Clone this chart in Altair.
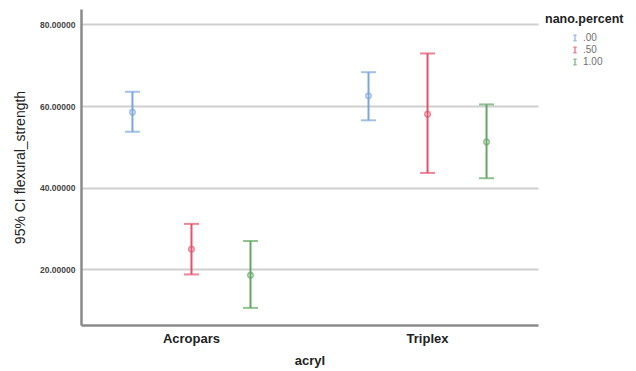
import altair as alt
import pandas as pd

acryl = ["Acropars", "Acropars", "Acropars", "Triplex", "Triplex", "Triplex"]
nano = [".00", ".50", "1.00", ".00", ".50", "1.00"]
mean_vals = [58.5, 24.9, 18.5, 62.5, 58.0, 51.2]
lower_vals = [53.7, 18.7, 10.5, 56.5, 43.6, 42.3]
upper_vals = [63.5, 31.1, 26.9, 68.3, 72.9, 60.4]

y_ticks = [20, 40, 60, 80]
y_tick_labels = ["20.00000", "40.00000", "60.00000", "80.00000"]
nano_order = [".00", ".50", "1.00"]
colors = ["#7aa6de", "#e5506b", "#62a663"]
legend_title = "nano.percent"

df = pd.DataFrame({
    "acryl": acryl, "nano": nano, "mean": mean_vals,
    "lower": lower_vals, "upper": upper_vals,
})

label_map = "{" + ",".join(f"'{v}':'{l}'" for v, l in zip(y_ticks, y_tick_labels)) + "}"

FONT = "Liberation Sans"

x_enc = alt.X("acryl:N", title="acryl",
              scale=alt.Scale(paddingInner=0.2, paddingOuter=0.068),
              axis=alt.Axis(labelAngle=0, labelFontWeight="bold", labelFontSize=13,
                            labelColor="#222", titleFontSize=13, titleFontWeight="bold",
                            titleColor="#222", ticks=False, labelPadding=7,
                            titlePadding=9, domainColor="#8a8a8a", domainWidth=2.5,
                            labelFont=FONT, titleFont=FONT, grid=False))
xo_enc = alt.XOffset("nano:N", sort=nano_order,
                     scale=alt.Scale(paddingInner=0, paddingOuter=0.1))
color_enc = alt.Color("nano:N", sort=nano_order,
                      scale=alt.Scale(domain=nano_order, range=colors),
                      legend=alt.Legend(orient="none", legendX=489, legendY=24,
                                        title=None,
                                        symbolType="M-0.6,-1H0.6M0,-1V1M-0.6,1H0.6",
                                        symbolSize=30, symbolStrokeWidth=1.5,
                                        symbolFillColor="transparent",
                                        labelFont=FONT, labelFontSize=10,
                                        labelColor="#707070", rowPadding=0,
                                        labelOffset=3, padding=0))
y_scale = alt.Scale(domain=[6.3, 83.8], nice=False, zero=False)
y_axis = alt.Axis(values=y_ticks, labelExpr=f"{label_map}[datum.value]",
                  title="95% CI flexural_strength", titleFontSize=14,
                  titleFontWeight="normal", titleColor="#222", titleFont=FONT,
                  labelFont=FONT, labelFontSize=8.5, labelFontWeight="bold",
                  labelColor="#444", ticks=False, labelPadding=6,
                  titlePadding=12, domainColor="#8a8a8a", domainWidth=2.5,
                  gridColor="#cfcfcf", gridWidth=2)

base = alt.Chart(df)

rule = base.mark_rule(strokeWidth=2).encode(
    x=x_enc, xOffset=xo_enc,
    y=alt.Y("lower:Q", scale=y_scale, axis=y_axis), y2="upper:Q",
    color=color_enc)
tick_lo = base.mark_tick(size=15, thickness=2).encode(
    x=x_enc, xOffset=xo_enc, y=alt.Y("lower:Q", scale=y_scale), color=color_enc)
tick_hi = base.mark_tick(size=15, thickness=2).encode(
    x=x_enc, xOffset=xo_enc, y=alt.Y("upper:Q", scale=y_scale), color=color_enc)
pts = base.mark_point(size=28, strokeWidth=1.6, filled=False).encode(
    x=x_enc, xOffset=xo_enc, y=alt.Y("mean:Q", scale=y_scale), color=color_enc)

title_txt = alt.Chart(pd.DataFrame({"t": [legend_title]})).mark_text(
    align="left", baseline="middle", font=FONT, fontSize=12.5,
    fontWeight="bold", color="#222"
).encode(text="t:N", x=alt.value(464), y=alt.value(10))

chart = alt.layer(rule, tick_lo, tick_hi, pts, title_txt).properties(
    width=457, height=316,
    autosize=alt.AutoSizeParams(type="none"),
    padding={"left": 73, "top": 1, "right": 90, "bottom": 46},
).configure_view(stroke=None)

chart.save("out.html", embed_options={"renderer": "svg", "actions": False})
